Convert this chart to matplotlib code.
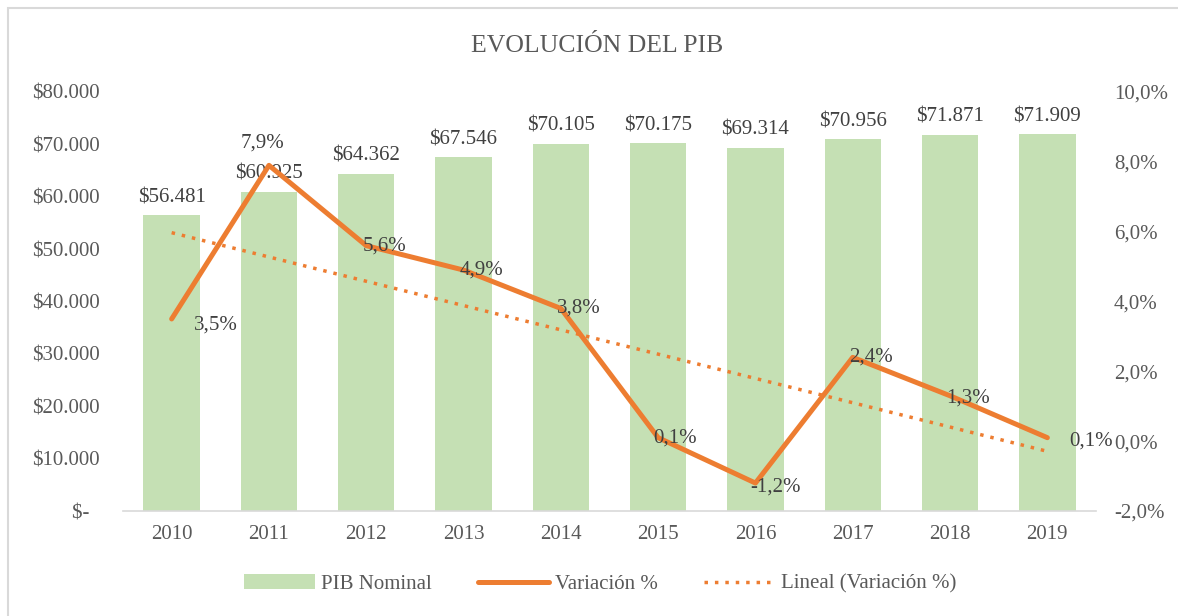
import matplotlib
matplotlib.use("Agg")
import matplotlib.pyplot as plt
import numpy as np
from matplotlib.patches import Rectangle

years = ["2010", "2011", "2012", "2013", "2014", "2015", "2016", "2017", "2018", "2019"]
pib_nominal = [56481, 60925, 64362, 67546, 70105, 70175, 69314, 70956, 71871, 71909]
variacion = [3.5, 7.9, 5.6, 4.9, 3.8, 0.1, -1.2, 2.4, 1.3, 0.1]

GREEN = "#C5E0B4"
ORANGE = "#ED7D31"
TXT = "#595959"

plt.rcParams.update({"font.family": ["Liberation Serif", "DejaVu Serif"],
                     "font.size": 15, "text.color": TXT})

fig = plt.figure(figsize=(11.78, 6.16), dpi=100)
ax = fig.add_axes([123 / 1178, 1 - 511 / 616, (1096 - 123) / 1178, (511 - 92) / 616])
x = np.arange(len(years))

# bars
ax.bar(x, pib_nominal, width=0.58, color=GREEN, zorder=2, label="PIB Nominal")
ax.set_xlim(-0.5, len(years) - 0.5)
ax.set_ylim(0, 80000)
ax.set_yticks(range(0, 80001, 10000))
ax.set_yticklabels(["$-  " if v == 0 else "${:,}".format(v).replace(",", ".")
                    for v in range(0, 80001, 10000)])
ax.set_xticks(x)
ax.set_xticklabels(years)
ax.tick_params(axis="y", length=0, pad=17, colors=TXT, labelsize=15)
ax.tick_params(axis="x", length=0, pad=10, colors=TXT, labelsize=15)
for s in ["top", "left", "right"]:
    ax.spines[s].set_visible(False)
ax.spines["bottom"].set_color("#D9D9D9")
ax.spines["bottom"].set_linewidth(1.2)
for xi, v in zip(x, pib_nominal):
    ax.annotate("${:,}".format(v).replace(",", "."), (xi, v), xytext=(0, 8),
                textcoords="offset pixels", ha="center", va="bottom",
                fontsize=15, color="#404040", zorder=3)

# line on secondary axis
ax2 = ax.twinx()
ax2.set_ylim(-2, 10)
ax2.set_yticks(range(-2, 11, 2))
ax2.set_yticklabels([("%.1f%%" % t).replace(".", ",") for t in range(-2, 11, 2)])
ax2.tick_params(axis="y", length=0, pad=13, colors=TXT, labelsize=15)
for s in ["top", "left", "right", "bottom"]:
    ax2.spines[s].set_visible(False)

ax2.plot(x, variacion, color=ORANGE, lw=3.6, solid_capstyle="round",
         solid_joinstyle="round", label="Variación %", zorder=4)

slope, icpt = np.polyfit(x, variacion, 1)
ax2.plot(x, slope * x + icpt, color=ORANGE, lw=2.5, linestyle=(0, (1, 2)),
         label="Lineal (Variación %)", zorder=3)

# label offsets in pixels (dx, dy, ha)
offsets = [(22, -6, "left"), (-6, 22, "center"), (-4, 0, "left"), (-4, 0, "left"),
           (-4, 0, "left"), (-5, 0, "left"), (-5, -4, "left"), (-4, 0, "left"),
           (-4, -2, "left"), (22, -3, "left")]
for xi, v, (dx, dy, ha) in zip(x, variacion, offsets):
    ax2.annotate(("%.1f%%" % v).replace(".", ","), (xi, v), xytext=(dx, dy),
                 textcoords="offset pixels", ha=ha, va="center",
                 fontsize=15, color="#404040", zorder=5)

fig.text(597 / 1178, 1 - 46 / 616, "EVOLUCIÓN DEL PIB", ha="center", va="center",
         fontsize=18.5, color=TXT)

h1, l1 = ax.get_legend_handles_labels()
h2, l2 = ax2.get_legend_handles_labels()
fig.legend(h1 + h2, l1 + l2, loc="center", bbox_to_anchor=(600 / 1178, 1 - 584 / 616),
           ncol=3, frameon=False, fontsize=15, handlelength=3.4,
           columnspacing=2.2, handletextpad=0.3, labelcolor=TXT)

# chart border (only top/left visible in the reference crop)
fig.patches.append(Rectangle((8 / 1178, -0.1), 1.2, 1 - 8 / 616 + 0.1,
                             transform=fig.transFigure, fill=False,
                             edgecolor="#D9D9D9", lw=1.5))

fig.savefig("out.png", dpi=100)
